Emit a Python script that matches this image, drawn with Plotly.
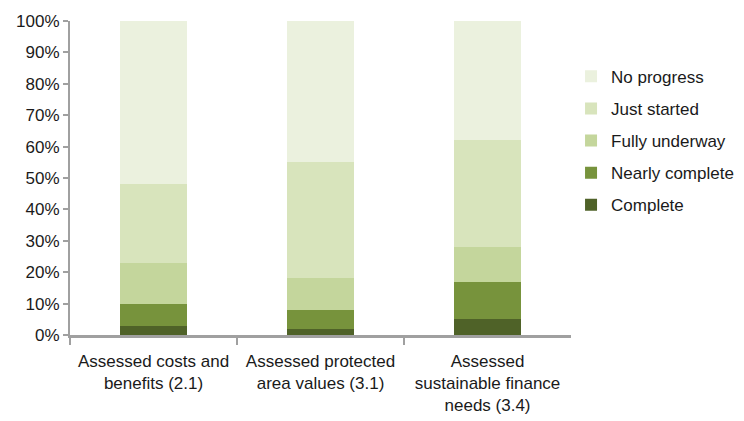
import plotly.graph_objects as go

CATEGORIES = [
    "Assessed costs and<br>benefits (2.1)",
    "Assessed protected<br>area values (3.1)",
    "Assessed<br>sustainable finance<br>needs (3.4)",
]
COMPLETE = [3, 2, 5]
NEARLY_COMPLETE = [7, 6, 12]
FULLY_UNDERWAY = [13, 10, 11]
JUST_STARTED = [25, 37, 34]
NO_PROGRESS = [52, 45, 38]

FONT = "Liberation Sans, Arial, sans-serif"
AXIS = "#a0a0a0"

series = [
    ("Complete", COMPLETE, "#4f6228"),
    ("Nearly complete", NEARLY_COMPLETE, "#77933c"),
    ("Fully underway", FULLY_UNDERWAY, "#c4d69c"),
    ("Just started", JUST_STARTED, "#d8e4bc"),
    ("No progress", NO_PROGRESS, "#ebf1de"),
]

fig = go.Figure()
for i, (name, vals, color) in enumerate(series):
    # legend lists the top of the stack first
    fig.add_trace(go.Bar(x=CATEGORIES, y=vals, name=name, marker_color=color,
                         marker_line_width=0, width=0.4, legendgroup=name,
                         legendrank=1000 - i))

# page body has an 8px margin, so the figure is sized/offset to compensate
fig.update_layout(
    barmode="stack", width=736, height=413,
    plot_bgcolor="white", paper_bgcolor="white",
    margin=dict(l=62, r=170, t=13, b=86),
    font=dict(family=FONT, size=17, color="#1a1a1a"),
    legend=dict(traceorder="grouped", xref="container", yref="container",
                x=0.765, xanchor="left", y=0.877, yanchor="top",
                tracegroupgap=7, font=dict(size=17)),
    showlegend=True,
)
fig.update_xaxes(showline=True, linecolor=AXIS, linewidth=2.5, ticks="outside",
                 tickson="boundaries", ticklen=7, tickcolor=AXIS, tickwidth=2,
                 tickangle=0, automargin=False, tickfont=dict(size=17),
                 ticklabelstandoff=9)
fig.update_yaxes(range=[0, 100], dtick=10, ticksuffix="%", showgrid=False, zeroline=False,
                 showline=True, linecolor=AXIS, linewidth=2, ticks="outside",
                 ticklen=5, tickcolor=AXIS, tickwidth=2, automargin=False,
                 tickfont=dict(size=17))

fig.write_html("out.html")
